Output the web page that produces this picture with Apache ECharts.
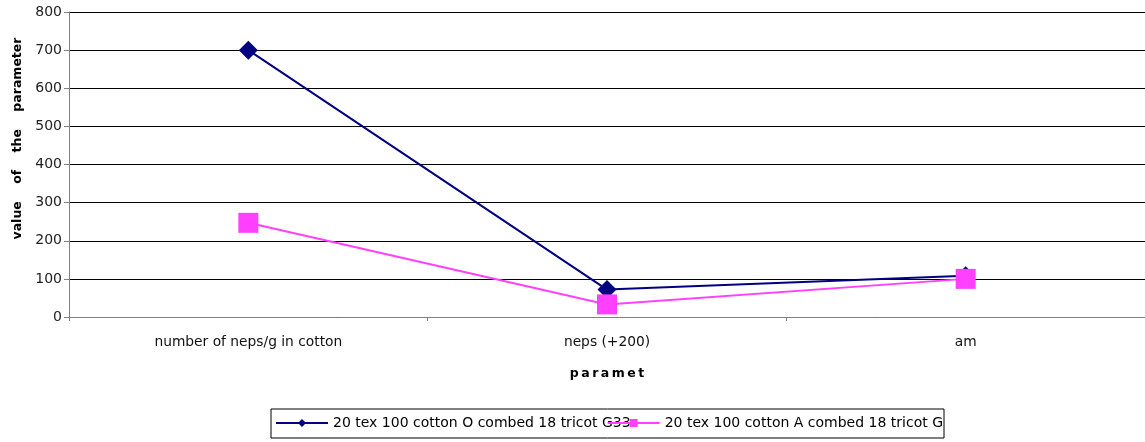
<!DOCTYPE html>
<html>
<head>
<meta charset="utf-8">
<script src="https://cdn.jsdelivr.net/npm/echarts@6/dist/echarts.min.js"></script>
<style>html,body{margin:0;padding:0;background:#fff}#c{width:1145px;height:442px}</style>
</head>
<body>
<div id="c"></div>
<script>
const categories = ['number of neps/g in cotton', 'neps (+200)', 'am'];
const seriesONames = '20 tex 100 cotton O combed 18 tricot G33';
const seriesANames = '20 tex 100 cotton A combed 18 tricot G33';
const legendShown = ['20 tex 100 cotton O combed 18 tricot G33', '20 tex 100 cotton A combed 18 tricot G'];
const valuesO = [700, 72, 108];
const valuesA = [247, 33, 100];
const yTicks = [0, 100, 200, 300, 400, 500, 600, 700, 800];

const FONT = 'DejaVu Sans';
const chart = echarts.init(document.getElementById('c'), null, {renderer: 'canvas'});
chart.setOption({
  animation: false,
  backgroundColor: '#fff',
  grid: {left: 69, right: -3, top: 12, bottom: 125, containLabel: false},
  xAxis: {
    type: 'category',
    data: categories,
    boundaryGap: true,
    name: 'p\u2009a\u2009r\u2009a\u2009m\u2009e\u2009t',
    nameLocation: 'middle',
    nameGap: 50,
    nameTextStyle: {fontFamily: FONT, fontWeight: 'bold', fontSize: 12.5, color: '#000'},
    axisLine: {lineStyle: {color: '#808080', width: 1}},
    axisTick: {show: true, inside: false, length: 4, lineStyle: {color: '#808080'}},
    axisLabel: {fontFamily: FONT, fontSize: 13.8, color: '#111', margin: 18},
    splitLine: {show: false}
  },
  yAxis: {
    type: 'value',
    min: yTicks[0],
    max: yTicks[yTicks.length - 1],
    interval: 100,
    name: 'value    of    the    parameter',
    nameLocation: 'middle',
    nameGap: 44,
    nameTextStyle: {fontFamily: FONT, fontWeight: 'bold', fontSize: 12.5, color: '#000', padding: [0, 0, 0, 52]},
    axisLine: {show: true, lineStyle: {color: '#808080', width: 1}},
    axisTick: {show: true, length: 5, lineStyle: {color: '#808080'}},
    axisLabel: {fontFamily: FONT, fontSize: 14, color: '#222', margin: 7},
    splitLine: {show: true, lineStyle: {color: '#000', width: 1}}
  },
  legend: {
    left: 271,
    top: 409,
    orient: 'horizontal',
    padding: [7, 1, 8, 4],
    borderColor: '#000',
    borderWidth: 1,
    itemWidth: 52,
    itemHeight: 10,
    itemGap: -24,
    textStyle: {fontFamily: FONT, fontSize: 14, color: '#000'},
    formatter: function (name) { return name === seriesANames ? legendShown[1] : legendShown[0]; },
    data: [seriesONames, seriesANames]
  },
  series: [
    {
      name: seriesONames,
      type: 'line',
      data: valuesO,
      symbol: 'diamond',
      symbolSize: 19,
      lineStyle: {color: '#000080', width: 2},
      itemStyle: {color: '#000080'},
      z: 3
    },
    {
      name: seriesANames,
      type: 'line',
      data: valuesA,
      symbol: 'rect',
      symbolSize: 20,
      lineStyle: {color: '#ff40ff', width: 2},
      itemStyle: {color: '#ff40ff'},
      z: 4
    }
  ]
});
</script>
</body>
</html>
